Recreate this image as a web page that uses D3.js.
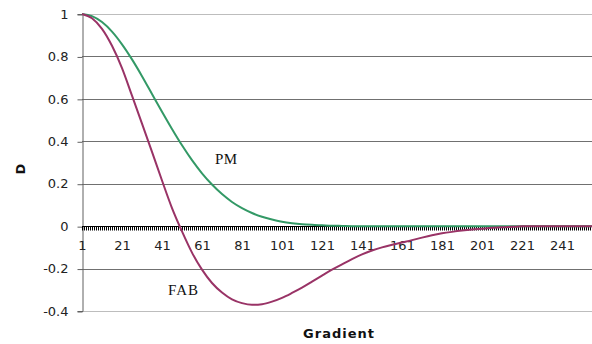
<!DOCTYPE html>
<html>
<head>
<meta charset="utf-8">
<script src="https://cdn.jsdelivr.net/npm/d3@7"></script>
<style>
  body { margin: 0; background: #fff; }
  svg { display: block; }
</style>
</head>
<body>
<div id="chart"></div>
<script>
// Gradient positions (x) and the two curves
const gradient = [1, 6, 11, 16, 21, 26, 31, 36, 41, 46, 51, 56, 61, 66, 71, 76, 81, 86, 91, 96,
  101, 106, 111, 116, 121, 126, 131, 136, 141, 146, 151, 156, 161, 166, 171, 176, 181, 186, 191, 196,
  201, 206, 211, 216, 221, 226, 231, 236, 241, 246, 251, 256];

const pmValues = [1.000, 0.990, 0.962, 0.917, 0.857, 0.786, 0.707, 0.623, 0.539, 0.458,
  0.381, 0.311, 0.249, 0.196, 0.151, 0.114, 0.085, 0.062, 0.044, 0.031,
  0.021, 0.014, 0.009, 0.006, 0.004, 0.002, 0.001, 0, 0, 0,
  0, 0, 0, 0, 0, 0, 0, 0, 0, 0,
  0, 0, 0, 0, 0, 0, 0, 0, 0, 0, 0, 0];

const fabValues = [1.000, 0.980, 0.930, 0.850, 0.745, 0.615, 0.483, 0.350, 0.215, 0.085,
  -0.025, -0.125, -0.205, -0.268, -0.313, -0.345, -0.363, -0.371, -0.368, -0.356,
  -0.338, -0.315, -0.290, -0.262, -0.233, -0.205, -0.180, -0.155, -0.133, -0.115,
  -0.100, -0.088, -0.077, -0.066, -0.054, -0.043, -0.034, -0.027, -0.021, -0.016,
  -0.012, -0.008, -0.005, -0.003, -0.001, 0, 0, 0, 0, 0, 0, 0];

const xTickLabels = [1, 21, 41, 61, 81, 101, 121, 141, 161, 181, 201, 221, 241];
const yTicks = [-0.4, -0.2, 0, 0.2, 0.4, 0.6, 0.8, 1];
const yTickLabels = ['-0.4', '-0.2', '0', '0.2', '0.4', '0.6', '0.8', '1'];

const width = 592;
const height = 344;
const margin = { top: 14, right: 0, bottom: 33, left: 82 };

const svg = d3.select('#chart')
  .append('svg')
  .attr('width', width)
  .attr('height', height);

const x = d3.scaleLinear()
  .domain([1, 256])
  .range([margin.left, width - margin.right]);

const y = d3.scaleLinear()
  .domain([-0.4, 1])
  .range([height - margin.bottom, margin.top]);

// horizontal gridlines (top and bottom ones look lighter in the original)
svg.append('g')
  .selectAll('line')
  .data(yTicks)
  .enter()
  .append('line')
  .attr('x1', margin.left)
  .attr('x2', width)
  .attr('y1', d => Math.round(y(d)) + 0.5)
  .attr('y2', d => Math.round(y(d)) + 0.5)
  .attr('stroke', d => (d === 1 || d === -0.4) ? '#bdbdbd' : '#707070')
  .attr('stroke-width', 1);

// y axis, labels use a plain hyphen like the original
const yAxis = svg.append('g')
  .attr('transform', `translate(${margin.left + 0.5},0)`)
  .call(d3.axisLeft(y).tickValues(yTicks).tickSize(5).tickPadding(9)
    .tickFormat((d, i) => yTickLabels[i]));
yAxis.select('.domain').attr('stroke', '#606060');
yAxis.selectAll('.tick line').attr('stroke', '#606060');
yAxis.selectAll('.tick line').attr('transform', 'translate(0,0.5)');
yAxis.selectAll('text')
  .attr('font-family', '"DejaVu Sans", Verdana, sans-serif')
  .attr('font-size', 13)
  .attr('fill', '#222');

// category axis sitting on the zero line, a tick for every category
const xAxis = svg.append('g')
  .attr('transform', `translate(0,${Math.round(y(0)) + 0.5})`)
  .call(d3.axisBottom(x).tickValues(d3.range(1, 257)).tickSize(4).tickPadding(10)
    .tickFormat(d => xTickLabels.includes(d) ? d : ''));
xAxis.select('.domain').attr('stroke', '#000').attr('d', `M${margin.left},0H${width}`);
xAxis.selectAll('.tick line').attr('stroke', '#000');
xAxis.selectAll('text')
  .attr('font-family', '"DejaVu Sans", Verdana, sans-serif')
  .attr('font-size', 13)
  .attr('fill', '#222');

// the two curves
const line = d3.line()
  .x((d, i) => x(gradient[i]))
  .y(d => y(d))
  .curve(d3.curveMonotoneX);

svg.append('path')
  .datum(pmValues)
  .attr('fill', 'none')
  .attr('stroke', '#339966')
  .attr('stroke-width', 2)
  .attr('d', line);

svg.append('path')
  .datum(fabValues)
  .attr('fill', 'none')
  .attr('stroke', '#993366')
  .attr('stroke-width', 2)
  .attr('d', line);

// series labels
svg.append('text')
  .attr('x', 215)
  .attr('y', 164)
  .attr('font-family', '"Liberation Serif", "Times New Roman", serif')
  .attr('font-size', 15)
  .attr('letter-spacing', 0.5)
  .attr('fill', '#111')
  .text('PM');

svg.append('text')
  .attr('x', 168)
  .attr('y', 295)
  .attr('font-family', '"Liberation Serif", "Times New Roman", serif')
  .attr('font-size', 15)
  .attr('letter-spacing', 1)
  .attr('fill', '#111')
  .text('FAB');

// axis titles
svg.append('text')
  .attr('x', 339)
  .attr('y', 338)
  .attr('text-anchor', 'middle')
  .attr('font-family', '"DejaVu Sans", Verdana, sans-serif')
  .attr('font-weight', 'bold')
  .attr('font-size', 13)
  .attr('letter-spacing', 1)
  .attr('fill', '#111')
  .text('Gradient');

svg.append('text')
  .attr('transform', 'translate(25,169) rotate(-90)')
  .attr('text-anchor', 'middle')
  .attr('font-family', '"DejaVu Sans", Verdana, sans-serif')
  .attr('font-weight', 'bold')
  .attr('font-size', 13)
  .attr('fill', '#111')
  .text('D');
</script>
</body>
</html>
